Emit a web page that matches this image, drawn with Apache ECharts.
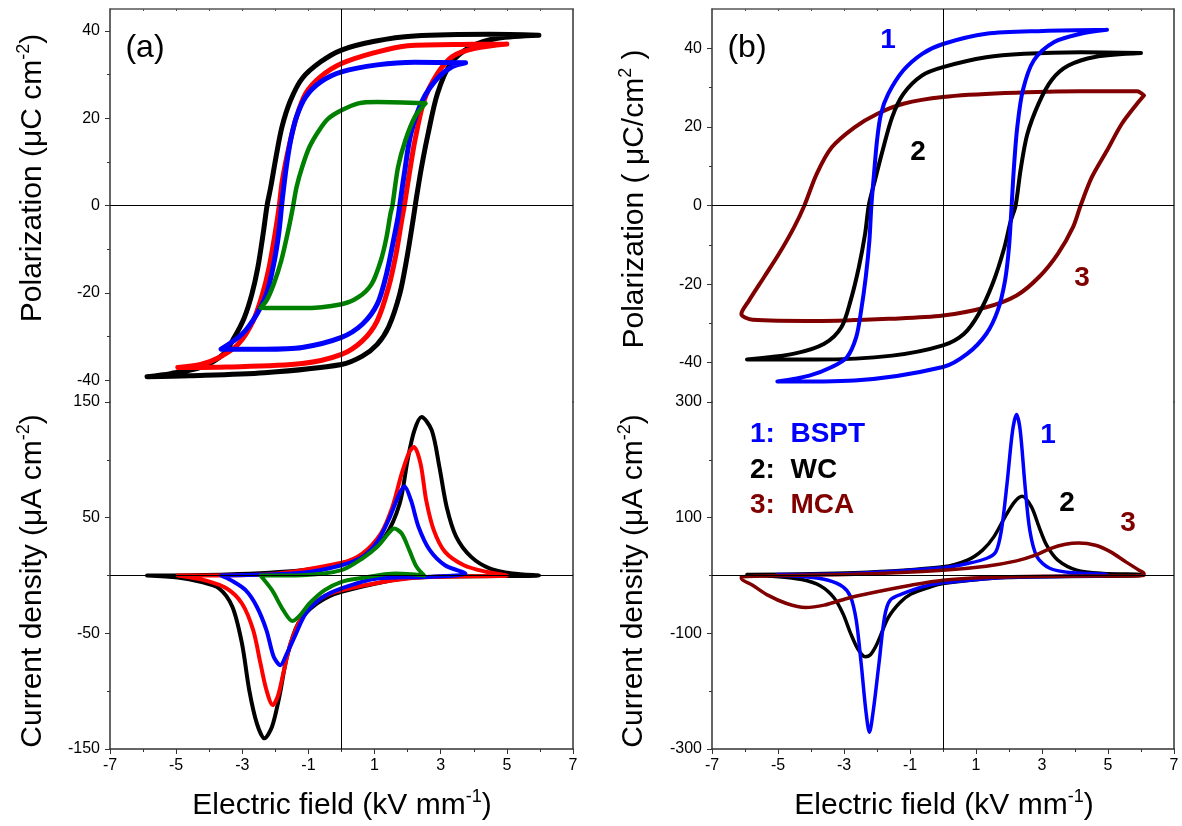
<!DOCTYPE html>
<html>
<head>
<meta charset="utf-8">
<title>P-E loops and switching current</title>
<script src="https://cdn.jsdelivr.net/npm/echarts@6/dist/echarts.min.js"></script>
<style>
    html, body { margin: 0; padding: 0; background: #fff; }
    #chart { width: 1182px; height: 826px; }
</style>
</head>
<body>
<div id="chart"></div>
<script>
// ---- panel (a): polarization loops, [E (kV/mm), P (uC/cm2)], upper branch then lower branch
var polA_black = [[5.97,39.0],[4.5,39.2],[2.2,38.8],[1.0,37.6],[0,35.6],[-0.63,32.9],[-1.19,29.1],[-1.54,24.1],[-1.8,18.0],[-1.98,11.1],[-2.14,4.2],[-2.25,0],[-2.37,-6.5],[-2.53,-14.2],[-2.71,-20.3],[-2.94,-25.7],[-3.24,-30.2],[-3.58,-34.1],[-4.26,-37.1],[-5.17,-38.5],[-5.88,-39.2],
    [-4.6,-39.0],[-2.33,-38.3],[0,-36.4],[0.63,-34.5],[1.08,-31.8],[1.42,-27.9],[1.76,-20.3],[1.98,-11.9],[2.16,-3.5],[2.26,1.5],[2.42,8.8],[2.62,16.5],[2.9,25.6],[3.3,32.5],[3.92,36.4],[4.72,38.3],[5.97,39.0]];
var polA_red = [[5.0,37.0],[4.0,36.9],[2.0,36.6],[1.0,35.0],[0,32.5],[-0.63,29.5],[-1.08,25.7],[-1.36,20.3],[-1.59,13.4],[-1.79,5.7],[-1.88,0],[-2.01,-6.5],[-2.19,-14.2],[-2.39,-20.3],[-2.67,-26.4],[-3.13,-31.8],[-3.7,-34.8],[-4.26,-36.4],[-4.95,-37.1],
    [-3.47,-37.0],[-1.19,-36.2],[0,-34.1],[0.63,-31.0],[1.08,-26.4],[1.42,-18.8],[1.65,-11.1],[1.82,-3.4],[1.9,0],[2.05,7.3],[2.22,14.9],[2.5,24.1],[2.9,30.2],[3.35,34.1],[4.04,36.0],[5.0,37.0]];
var polA_blue = [[3.75,32.7],[2.22,32.8],[1.08,32.2],[0,30.6],[-0.63,28.3],[-1.08,24.9],[-1.36,20.3],[-1.54,14.9],[-1.67,8.8],[-1.76,3.4],[-1.81,0],[-1.9,-6.5],[-2.05,-13.4],[-2.27,-20.3],[-2.56,-24.9],[-3.01,-29.5],[-3.64,-32.9],
    [-2.33,-32.9],[-1.19,-32.5],[0,-30.2],[0.63,-27.2],[1.08,-22.6],[1.36,-15.7],[1.59,-7.3],[1.71,-2.7],[1.76,0],[1.9,7.3],[2.1,16.5],[2.45,24.1],[2.9,29.1],[3.35,31.8],[3.75,32.7]];
var polA_green = [[2.54,23.4],[1.08,23.7],[0.51,23.4],[0,21.8],[-0.4,19.9],[-0.68,17.2],[-0.97,13.4],[-1.19,8.8],[-1.36,4.2],[-1.46,0],[-1.59,-5.0],[-1.82,-12.6],[-2.05,-18.0],[-2.27,-21.8],[-2.45,-23.4],
    [-1.19,-23.5],[0,-22.6],[0.51,-21.0],[0.91,-18.0],[1.19,-12.6],[1.36,-7.3],[1.48,-1.9],[1.54,0],[1.71,8.8],[1.93,14.9],[2.22,20.3],[2.54,23.4]];

// ---- panel (a): current density, [E, J (uA/cm2)], rising field then falling field
var curA_black = [[-5.88,0],[-3.47,0.9],[-1.19,4.6],[0,10.4],[0.74,19],[1.31,33.4],[1.76,62.2],[2.0,100],[2.2,125],[2.42,137],[2.73,125.5],[2.96,93.9],[3.18,59.3],[3.47,33.4],[3.92,16.1],[4.49,6],[5.17,1.7],[5.97,0],
    [2.22,-1.7],[0,-14.1],[-0.74,-24.2],[-1.31,-41.5],[-1.65,-70.3],[-1.88,-104.8],[-2.1,-130.7],[-2.33,-140.8],[-2.56,-127.8],[-2.79,-99],[-3.01,-58.7],[-3.3,-27],[-3.7,-11.2],[-4.26,-5.5],[-4.95,-1.7],[-5.88,0]];
var curA_red = [[-4.95,0],[-2.33,0.9],[0,11],[0.63,19],[1.19,36.3],[1.54,59.3],[1.82,88.1],[2.05,106.8],[2.19,111.1],[2.39,96.7],[2.56,65.1],[2.79,39.2],[3.13,20.4],[3.7,8.9],[4.38,3.2],[5.0,0],
    [2.22,-2],[0,-12.7],[-0.63,-19.9],[-1.19,-35.7],[-1.54,-58.7],[-1.76,-84.7],[-1.93,-104.8],[-2.08,-112],[-2.27,-99],[-2.45,-76],[-2.67,-47.2],[-3.01,-24.2],[-3.47,-11.2],[-4.15,-4],[-4.95,0]];
var curA_blue = [[-3.64,0],[-1.19,2.3],[0,8.9],[0.63,16.1],[1.08,29.1],[1.42,47.8],[1.71,68],[1.9,77.2],[2.1,65.1],[2.33,42],[2.67,21.9],[3.13,8.9],[3.75,1.7],
    [2.5,-1.2],[1.08,-2.6],[0,-11.2],[-0.63,-19.9],[-1.08,-32.8],[-1.42,-53],[-1.65,-67.4],[-1.85,-77.5],[-2.05,-70.3],[-2.27,-47.2],[-2.56,-27],[-2.9,-12.7],[-3.35,-4],[-3.64,0]];
var curA_green = [[-2.45,0],[-1.19,0.3],[0,4.6],[0.63,14.7],[1.08,24.8],[1.42,36.3],[1.59,40.6],[1.82,36.3],[2.05,21.9],[2.27,7.5],[2.5,0],
    [1.65,1.7],[0.51,-2.6],[0,-5.5],[-0.51,-12.7],[-0.97,-24.2],[-1.25,-34.3],[-1.48,-39.4],[-1.76,-30],[-2.1,-12.7],[-2.45,0]];

// ---- panel (b): polarization loops (1 BSPT, 2 WC, 3 MCA)
var polB_bspt = [[4.97,44.7],[3.03,44.4],[1.31,43.7],[0,41.1],[-0.63,38.6],[-1.2,34.4],[-1.66,28.4],[-1.88,23.3],[-2.0,16.5],[-2.09,8.1],[-2.17,0],[-2.23,-8.9],[-2.34,-18.2],[-2.48,-26.7],[-2.63,-33.5],[-2.91,-38.6],[-3.37,-41.1],[-4.05,-43.3],[-5.02,-44.8],
    [-2.68,-44.5],[0,-41.1],[0.74,-37.7],[1.31,-32.7],[1.66,-26.7],[1.88,-19.1],[2.0,-10.6],[2.08,0],[2.15,9.8],[2.25,19.9],[2.42,29.3],[2.75,36.9],[3.37,41.6],[4.17,43.7],[4.97,44.7]];
var polB_wc = [[6.0,38.8],[4.17,39.0],[2.46,38.6],[1.31,37.7],[0,35.2],[-0.63,33.1],[-1.2,28.4],[-1.54,22.5],[-1.83,14],[-2.09,5.5],[-2.25,0],[-2.36,-7.2],[-2.55,-15.7],[-2.8,-24.2],[-3.08,-31],[-3.6,-35.2],[-4.51,-37.7],[-5.94,-39.2],
    [-3.83,-39.2],[-1.54,-38.2],[0,-35.6],[0.63,-32.7],[1.08,-27.6],[1.5,-20],[1.85,-11],[2.05,-4],[2.2,0],[2.35,9],[2.55,18],[2.9,26],[3.3,32],[3.8,35.6],[4.6,37.8],[6.0,38.8]];
var polB_mca = [[6.09,28],[5.88,29.1],[4.17,29.1],[1.88,28.6],[0,27.6],[-1.2,25.9],[-2.0,23.3],[-2.68,19.9],[-3.37,14.8],[-3.83,8.0],[-4.2,0],[-4.51,-5.5],[-4.97,-12.3],[-5.42,-18.2],[-5.88,-24.2],[-6.11,-27.6],
    [-5.77,-29.1],[-3.83,-29.4],[-1.54,-28.8],[0,-28],[1.31,-25.9],[2.23,-22.9],[2.91,-18.2],[3.48,-12.3],[3.94,-5.5],[4.17,0],[4.51,7.2],[4.97,14],[5.42,20.8],[5.88,25.9],[6.09,28]];

// ---- panel (b): current density
var curB_bspt = [[-5.02,1.7],[-2.68,3.5],[0,13.2],[0.74,20.7],[1.31,29.4],[1.6,40.9],[1.77,78.3],[1.94,158.9],[2.11,251],[2.23,278.6],[2.34,251],[2.48,158.9],[2.63,78.3],[2.85,32.2],[3.25,12.1],[3.94,4.6],[4.97,1.7],
    [4.97,0],[1.88,-3.5],[0,-12.7],[-0.63,-19.6],[-1.2,-31.1],[-1.6,-42.6],[-1.77,-71.4],[-1.94,-152],[-2.11,-232.6],[-2.23,-271.2],[-2.34,-232.6],[-2.48,-152],[-2.63,-77.1],[-2.8,-36.8],[-3.03,-19.6],[-3.48,-8.1],[-4.17,-2.3],[-5.02,0]];
var curB_wc = [[-5.94,1.7],[-2.68,4.6],[0,15],[0.74,26.5],[1.2,43.8],[1.54,66.8],[1.88,101.3],[2.17,127.2],[2.4,137],[2.68,118.6],[2.91,84],[3.14,52.4],[3.48,26.5],[4.05,9.2],[4.85,3.5],[6.0,1.7],
    [6.0,0],[1.88,-3.5],[0,-13.8],[-0.4,-20],[-0.97,-32],[-1.31,-47],[-1.66,-73],[-1.99,-117],[-2.2,-137],[-2.36,-140.5],[-2.57,-128],[-2.8,-100],[-3.03,-66],[-3.31,-38],[-3.71,-18],[-4.28,-6.9],[-5.2,-1.2],[-5.94,0]];
var curB_mca = [[-6.11,-2.3],[-4.97,0],[-2.68,2.3],[0,9.2],[1.31,16.1],[2.23,25.3],[2.8,35.1],[3.25,46.6],[3.71,54.1],[4.11,56.4],[4.62,52.4],[5.08,40.9],[5.54,23.6],[5.94,9.2],[6.09,3.5],
    [6.09,0],[3.03,-1.2],[1.31,-3.5],[0,-8.1],[-0.97,-16.7],[-2.0,-28.2],[-2.91,-39.7],[-3.6,-51.2],[-4.17,-55.3],[-4.74,-48.4],[-5.31,-34],[-5.77,-16.7],[-6.11,-5.2],[-6.11,-2.3]];

// tick labels
var fieldTicks = [-7, -5, -3, -1, 1, 3, 5, 7];
var polTicks = [-40, -20, 0, 20, 40];
var polMinorTicks = [-30, -10, 10, 30];

var FONT = '"Liberation Sans", Arial, Helvetica, sans-serif';
var AXIS_COLOR = '#333';
var TICK_FONT = 16;

var chart = echarts.init(document.getElementById('chart'), null, {renderer: 'canvas'});

function xAxisBottom(gridIndex) {
    return {
        type: 'value', gridIndex: gridIndex, position: 'bottom',
        min: fieldTicks[0], max: fieldTicks[fieldTicks.length - 1], interval: 2,
        axisLine: {show: true, onZero: false, lineStyle: {color: AXIS_COLOR, width: 1.5}},
        axisTick: {show: true, length: 5, lineStyle: {color: AXIS_COLOR}},
        minorTick: {show: true, splitNumber: 2, length: 3, lineStyle: {color: AXIS_COLOR}},
        axisLabel: {show: true, fontSize: TICK_FONT, color: '#000', fontFamily: FONT, margin: 9},
        splitLine: {show: false}
    };
}
function xAxisTop(gridIndex) {
    return {
        type: 'value', gridIndex: gridIndex, position: 'top',
        min: fieldTicks[0], max: fieldTicks[fieldTicks.length - 1], interval: 2,
        axisLine: {show: true, onZero: false, lineStyle: {color: '#555', width: 1.5}},
        axisTick: {show: true, inside: true, length: 2, lineStyle: {color: '#555'}},
        minorTick: {show: true, splitNumber: 2, length: 2, lineStyle: {color: '#555'}},
        axisLabel: {show: false},
        splitLine: {show: false}
    };
}
function yMain(gridIndex, min, max, interval) {
    return {
        type: 'value', gridIndex: gridIndex, position: 'left', min: min, max: max, interval: interval,
        axisLine: {show: true, onZero: false, lineStyle: {color: AXIS_COLOR, width: 1.5}},
        axisTick: {show: true, length: 5, lineStyle: {color: AXIS_COLOR}},
        minorTick: {show: true, splitNumber: 2, length: 3, lineStyle: {color: AXIS_COLOR}},
        axisLabel: {fontSize: TICK_FONT, color: '#000', fontFamily: FONT, margin: 10},
        splitLine: {show: false}
    };
}
function yPol(gridIndex, lim) {
    return {
        type: 'value', gridIndex: gridIndex, position: 'left', min: -lim, max: lim,
        axisLine: {show: true, onZero: false, lineStyle: {color: AXIS_COLOR, width: 1.5}},
        axisTick: {show: true, length: 5, customValues: polTicks, lineStyle: {color: AXIS_COLOR}},
        axisLabel: {fontSize: TICK_FONT, color: '#000', fontFamily: FONT, margin: 10, customValues: polTicks},
        splitLine: {show: false}
    };
}
function yPolMinor(gridIndex, lim) {
    return {
        type: 'value', gridIndex: gridIndex, position: 'left', min: -lim, max: lim,
        axisLine: {show: false, onZero: false},
        axisTick: {show: true, length: 3, customValues: polMinorTicks, lineStyle: {color: AXIS_COLOR}},
        axisLabel: {show: false, customValues: polMinorTicks},
        splitLine: {show: false}
    };
}
function yRight(gridIndex) {
    return {
        type: 'value', gridIndex: gridIndex, position: 'right', min: -1, max: 1,
        axisLine: {show: true, onZero: false, lineStyle: {color: AXIS_COLOR, width: 1.5}},
        axisTick: {show: false}, axisLabel: {show: false}, splitLine: {show: false}
    };
}

var zeroLines = {
    silent: true, symbol: ['none', 'none'], label: {show: false}, animation: false,
    lineStyle: {color: '#000', width: 1, type: 'solid'},
    data: [{xAxis: 0}, {yAxis: 0}]
};

function loop(data, color, width, xi, yi, withZero) {
    var s = {
        type: 'line', data: data, xAxisIndex: xi, yAxisIndex: yi,
        showSymbol: false, symbol: 'none', smooth: 0.3,
        lineStyle: {color: color, width: width, cap: 'round', join: 'round'},
        itemStyle: {color: color}, silent: true
    };
    if (withZero) s.markLine = zeroLines;
    return s;
}

var BLUE = '#0000ff', RED = '#ff0000', GREEN = '#008000', BLACK = '#000000', MAROON = '#800000';

function sup(base, s, size, tail) {
    return {
        text: '{t|' + base + '}{s|' + s + '}' + (tail ? '{t|' + tail + '}' : ''),
        rich: {
            t: {fontSize: size, fontFamily: FONT, lineHeight: size + 6, fill: '#000'},
            s: {fontSize: Math.round(size * 0.6), fontFamily: FONT, lineHeight: Math.round(size * 0.6), verticalAlign: 'top', fill: '#000'}
        }
    };
}

function vTitle(x, y, base, s, tail) {
    var st = sup(base, s, 30, tail);
    return {
        type: 'text', x: x, y: y, rotation: Math.PI / 2,
        style: {text: st.text, rich: st.rich, textAlign: 'center', textVerticalAlign: 'middle', fill: '#000'}
    };
}
function hTitle(x, y) {
    var st = sup('Electric field (kV mm', '-1', 30, ')');
    return {
        type: 'text', x: x, y: y,
        style: {text: st.text, rich: st.rich, textAlign: 'center', textVerticalAlign: 'middle', fill: '#000'}
    };
}
function tag(x, y, text, color, size, weight, align) {
    return {
        type: 'text', x: x, y: y,
        style: {text: text, fill: color, fontSize: size, fontWeight: weight || 'normal', fontFamily: FONT,
            textAlign: align || 'center', textVerticalAlign: 'middle'}
    };
}

var option = {
    animation: false,
    backgroundColor: '#fff',
    grid: [
        {left: 110, top: 9, width: 463, height: 393},
        {left: 110, top: 402, width: 463, height: 347},
        {left: 712, top: 9, width: 462, height: 393},
        {left: 712, top: 402, width: 462, height: 347}
    ],
    xAxis: [xAxisTop(0), xAxisBottom(1), xAxisTop(2), xAxisBottom(3)],
    yAxis: [
        yPol(0, 45), yPolMinor(0, 45), yRight(0),
        yMain(1, -150, 150, 100), yRight(1),
        yPol(2, 50), yPolMinor(2, 50), yRight(2),
        yMain(3, -300, 300, 200), yRight(3)
    ],
    series: [
        loop(polA_black, BLACK, 5, 0, 0, true),
        loop(polA_red, RED, 5, 0, 0),
        loop(polA_blue, BLUE, 5, 0, 0),
        loop(polA_green, GREEN, 4.5, 0, 0),
        loop(curA_black, BLACK, 4, 1, 3, true),
        loop(curA_red, RED, 4, 1, 3),
        loop(curA_blue, BLUE, 4, 1, 3),
        loop(curA_green, GREEN, 4, 1, 3),
        loop(polB_mca, MAROON, 4, 2, 5, true),
        loop(polB_wc, BLACK, 4, 2, 5),
        loop(polB_bspt, BLUE, 4, 2, 5),
        loop(curB_wc, BLACK, 3.5, 3, 8, true),
        loop(curB_bspt, BLUE, 3.5, 3, 8),
        loop(curB_mca, MAROON, 3.5, 3, 8)
    ],
    graphic: [
        tag(145, 48, '(a)', '#000', 32),
        tag(747, 48, '(b)', '#000', 32),
        vTitle(33, 178, 'Polarization (μC cm', '-2', ')'),
        vTitle(33, 581, 'Current density (μA cm', '-2', ')'),
        vTitle(635, 199, 'Polarization ( μC/cm', '2', ' )'),
        vTitle(634, 581, 'Current density (μA cm', '-2', ')'),
        hTitle(342, 806),
        hTitle(944, 806),
        tag(888, 40, '1', BLUE, 28, 'bold'),
        tag(918, 152, '2', BLACK, 28, 'bold'),
        tag(1082, 278, '3', MAROON, 28, 'bold'),
        tag(750, 434, '1:  BSPT', BLUE, 28, 'bold', 'left'),
        tag(750, 470, '2:  WC', BLACK, 28, 'bold', 'left'),
        tag(750, 505, '3:  MCA', MAROON, 28, 'bold', 'left'),
        tag(1048, 435, '1', BLUE, 28, 'bold'),
        tag(1067, 503, '2', BLACK, 28, 'bold'),
        tag(1128, 523, '3', MAROON, 28, 'bold')
    ]
};

chart.setOption(option);
</script>
</body>
</html>
